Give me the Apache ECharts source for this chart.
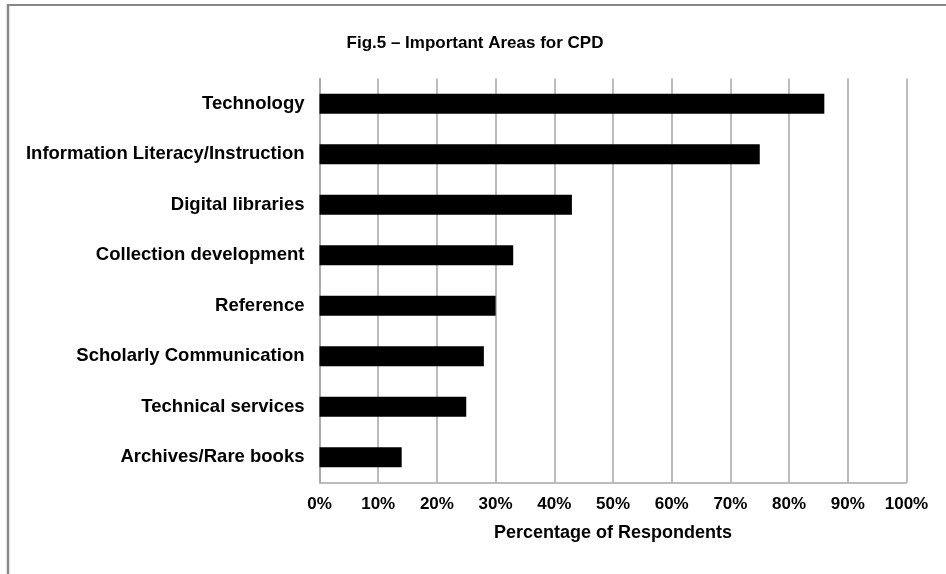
<!DOCTYPE html>
<html>
<head>
<meta charset="utf-8">
<script src="https://cdn.jsdelivr.net/npm/echarts@6/dist/echarts.min.js"></script>
<style>
  html, body { margin: 0; padding: 0; background: #fff; }
  #chart { width: 946px; height: 574px; }
</style>
</head>
<body>
<div id="chart"></div>
<script>
// Areas respondents named as important for continuing professional development
const categories = [
  'Technology',
  'Information Literacy/Instruction',
  'Digital libraries',
  'Collection development',
  'Reference',
  'Scholarly Communication',
  'Technical services',
  'Archives/Rare books'
];
const percentValues = [86, 75, 43, 33, 30, 28, 25, 14];
const tickLabels = ['0%', '10%', '20%', '30%', '40%', '50%', '60%', '70%', '80%', '90%', '100%'];

const FONT = '"Liberation Sans", Arial, sans-serif';
const GRID_GRAY = '#a6a6a6';

const chart = echarts.init(document.getElementById('chart'), null, { renderer: 'canvas' });

chart.setOption({
  animation: false,
  backgroundColor: '#ffffff',
  title: {
    text: 'Fig.5 \u2013 Important Areas for CPD',
    left: 470,
    top: 30,
    textAlign: 'center',
    textStyle: { fontFamily: FONT, fontWeight: 'bold', fontSize: 17, color: '#000' }
  },
  graphic: [
    // frame along top and left edges
    { type: 'line', shape: { x1: 7, y1: 5, x2: 946, y2: 5 }, style: { stroke: '#888', lineWidth: 2 } },
    { type: 'line', shape: { x1: 8, y1: 4, x2: 8, y2: 574 }, style: { stroke: '#888', lineWidth: 2.5 } }
  ],
  grid: { left: 319.5, right: 39.5, top: 78.5, bottom: 91.5, containLabel: false },
  xAxis: {
    type: 'value',
    min: 0,
    max: 100,
    interval: 10,
    name: 'Percentage of Respondents',
    nameLocation: 'middle',
    nameGap: 42,
    nameTextStyle: { fontFamily: FONT, fontWeight: 'bold', fontSize: 18, color: '#000' },
    axisLine: { show: true, lineStyle: { color: GRID_GRAY, width: 1.5 } },
    axisTick: { show: false },
    axisLabel: {
      margin: 13,
      fontFamily: FONT,
      fontWeight: 'bold',
      fontSize: 17,
      color: '#000',
      formatter: function (v) { return tickLabels[Math.round(v / 10)]; }
    },
    splitLine: { show: true, lineStyle: { color: GRID_GRAY, width: 1.5 } }
  },
  yAxis: {
    type: 'category',
    data: categories,
    inverse: true,
    axisLine: { show: true, lineStyle: { color: GRID_GRAY, width: 1.5 } },
    axisTick: { show: false },
    axisLabel: {
      margin: 15,
      fontFamily: FONT,
      fontWeight: 'bold',
      fontSize: 18.5,
      color: '#000'
    },
    splitLine: { show: false }
  },
  series: [{
    type: 'bar',
    data: percentValues,
    barWidth: 20,
    itemStyle: { color: '#000' }
  }]
});
</script>
</body>
</html>
